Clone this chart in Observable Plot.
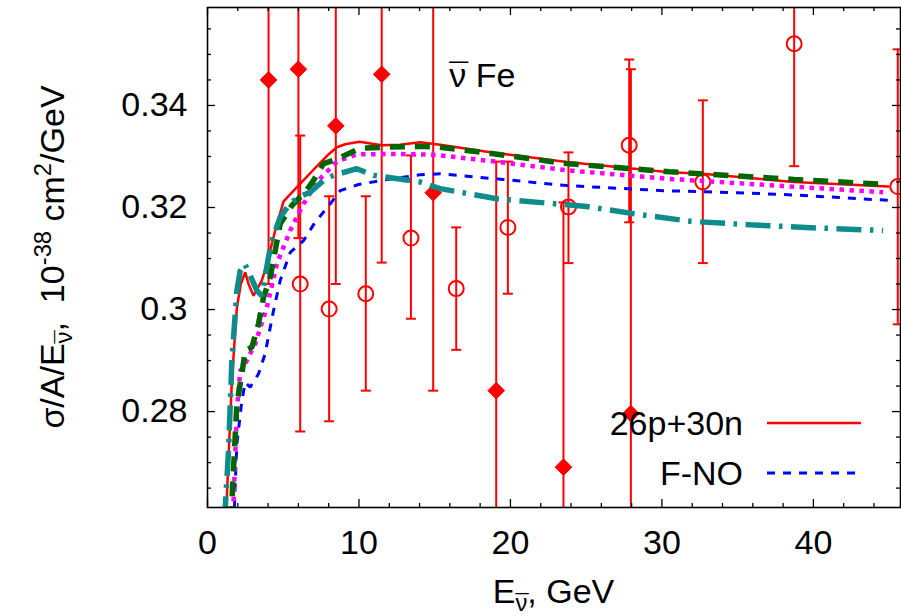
<!DOCTYPE html>
<html><head><meta charset="utf-8">
<script src="https://cdn.jsdelivr.net/npm/d3@7"></script>
<script src="https://cdn.jsdelivr.net/npm/@observablehq/plot@0.6"></script>
<style>
body{margin:0;background:#fff}
#chart svg{display:block}
</style>
</head><body><div id="chart"></div>
<script>
// ---------- data ----------
const xMajorTicks = [0, 10, 20, 30, 40];
const xMinorTicks = [2,4,6,8,12,14,16,18,22,24,26,28,32,34,36,38,42,44];
const yMajorTicks = [0.28, 0.3, 0.32, 0.34];
const yMinorTicks = [0.265,0.27,0.275,0.285,0.29,0.295,0.305,0.31,0.315,0.325,0.33,0.335,0.345,0.35,0.355];

// 26p+30n (red solid)
const redE = [1.2,1.61,1.94,2.2,2.49,2.71,3.04,3.59,3.92,4.47,5.02,6.0,7.0,7.99,8.54,9.09,10.03,11.5,12.7,14.04,15.36,19,23.72,30.5,32.7,38.7,44.95];
const redV = [0.258,0.2861,0.3004,0.305,0.3073,0.305,0.3027,0.3057,0.309,0.3155,0.3212,0.3243,0.3274,0.3304,0.3318,0.3324,0.3329,0.3322,0.3323,0.3328,0.3323,0.3307,0.3289,0.3269,0.3266,0.325,0.3241];
// F-NO (blue dashed)
const blueE = [1.78,1.83,1.94,2.27,2.49,2.82,3.37,3.8,4.36,4.8,5.46,6.34,7.1,8.1,8.76,9.97,12.06,14.04,15.36,19.5,23.72,30.1,35,39.1,44.95];
const blueV = [0.2612,0.2658,0.2737,0.2822,0.2857,0.2848,0.2874,0.2913,0.2998,0.3057,0.3112,0.3135,0.3171,0.3207,0.3233,0.3245,0.3256,0.3264,0.3266,0.3255,0.3243,0.3233,0.3229,0.3224,0.3214];
// magenta dotted
const magE = [1.68,1.72,1.94,2.16,2.38,3.15,3.92,4.58,5.46,6.34,7.22,8.54,9.86,12.06,14.04,15.14,19,23.7,30.5,38,44.6];
const magV = [0.2585,0.2625,0.2802,0.288,0.2887,0.2933,0.3004,0.309,0.3155,0.3207,0.325,0.329,0.3304,0.3305,0.3304,0.3303,0.329,0.3273,0.3256,0.3242,0.323];
// dark green dashed
const greenE = [1.5,1.61,1.94,2.27,2.49,2.93,3.37,3.7,4.14,4.8,5.57,6.45,7.0,7.66,8.54,10.08,11.5,14.04,15.36,19,23.7,30.5,38.7,44.9];
const greenV = [0.2585,0.2625,0.2815,0.2874,0.292,0.2926,0.2972,0.3024,0.3063,0.3168,0.3204,0.323,0.3253,0.3286,0.3295,0.3316,0.3318,0.332,0.3318,0.3305,0.3286,0.327,0.3255,0.3245];
// teal dash-dot
const tealE = [1.12,1.39,1.61,1.72,1.94,2.16,2.45,2.7,3.26,3.59,4.03,4.25,4.8,5.46,6.0,6.78,7.66,8.32,9.86,10.96,14.04,15.36,19.1,25.04,28.1,31.86,35.8,40.2,44.6];
const tealV = [0.2585,0.2724,0.29,0.2946,0.3037,0.3076,0.309,0.3075,0.3037,0.3027,0.3103,0.3135,0.3181,0.3208,0.322,0.323,0.3253,0.3263,0.3276,0.3263,0.325,0.3237,0.3217,0.3202,0.3188,0.3173,0.3166,0.316,0.3155];

// data points: filled diamonds
const diamondE  = [4.03,6.0,8.47,11.5,14.9,19.06,23.5,27.95];
const diamondV  = [0.345,0.3471,0.336,0.3461,0.3229,0.2841,0.2691,0.2796];
const diamondLo = [0.305,0.314,0.305,0.3092,0.2841,0.239,0.217,0.212];
const diamondHi = [0.385,0.380,0.367,0.383,0.3617,0.329,0.321,0.3471];
// data points: open circles
const circleE  = [6.12,8.03,10.45,13.43,16.42,19.83,23.83,27.84,32.7,38.73,45.57];
const circleV  = [0.305,0.3001,0.3031,0.314,0.3041,0.3161,0.3201,0.3322,0.325,0.3521,0.3241];
const circleLo = [0.2761,0.2781,0.2841,0.2982,0.2921,0.3031,0.3091,0.3171,0.3091,0.3281,0.2971];
const circleHi = [0.3341,0.3222,0.3222,0.3302,0.3161,0.329,0.3308,0.349,0.341,0.376,0.351];

const legendNames = ["26p+30n", "F-NO"];
const annotationNu = "\u03BD";
const annotationRest = " Fe";
const annotationX = 16.0;
const annotationY = 0.3459;

// ---------- build ----------
const RED = "#ff0000";
const toRows = (E, V) => E.map((e, i) => ({e, v: V[i]}));
const pts = (E, V, Lo, Hi) => E.map((e, i) => ({e, v: V[i], lo: Lo[i], hi: Hi[i]}));
const diamonds = pts(diamondE, diamondV, diamondLo, diamondHi);
const circles = pts(circleE, circleV, circleLo, circleHi);
const all = diamonds.concat(circles);

const capSymbol = {draw(ctx) { ctx.moveTo(-5, 0); ctx.lineTo(5, 0); }};

const W = 901, H = 616, ML = 207, MR = 1, MT = 7, MB = 109;
const FW = W - ML - MR, FH = H - MT - MB;
const FONT = "'Liberation Sans', Arial, Helvetica, sans-serif";
const FS = 34;

const curves = [
  {E: redE, V: redV, stroke: RED, w: 2.5, dash: null, cap: "round"},
  {E: blueE, V: blueV, stroke: "#0000ff", w: 3, dash: "8,8", cap: "butt"},
  {E: magE, V: magV, stroke: "#ff00ff", w: 4.5, dash: "4.5,5.5", cap: "butt"},
  {E: greenE, V: greenV, stroke: "#006400", w: 5.5, dash: "15,10", cap: "butt"},
  {E: tealE, V: tealV, stroke: "#0e8c8c", w: 5.5, dash: "25,8.5,3.5,8.5", cap: "butt"}
];

const plot = Plot.plot({
  width: W, height: H,
  marginLeft: ML, marginRight: MR, marginTop: MT, marginBottom: MB,
  style: {fontFamily: FONT, background: "white", color: "black", overflow: "visible"},
  x: {domain: [0, 45.75]},
  y: {domain: [0.2612, 0.3592]},
  marks: [
    // error bars
    Plot.ruleX(all, {x: "e", y1: "lo", y2: "hi", stroke: RED, strokeWidth: 2, clip: true}),
    Plot.dot(all, {x: "e", y: "lo", symbol: capSymbol, stroke: RED, strokeWidth: 2, clip: true}),
    Plot.dot(all, {x: "e", y: "hi", symbol: capSymbol, stroke: RED, strokeWidth: 2, clip: true}),
    Plot.dot(circles, {x: "e", y: "v", r: 7.5, stroke: RED, strokeWidth: 2, fill: "none", clip: true}),
    Plot.dot(diamonds, {x: "e", y: "v", symbol: "diamond2", r: 7.5, fill: RED, stroke: RED, strokeWidth: 1, clip: true}),
    // model curves
    ...curves.map(c => Plot.line(toRows(c.E, c.V), {
      x: "e", y: "v", stroke: c.stroke, strokeWidth: c.w,
      strokeDasharray: c.dash, strokeLinecap: c.cap, strokeLinejoin: "miter", clip: true
    })),
    // frame
    Plot.frame({stroke: "black", strokeWidth: 1.6}),
    // tick labels
    Plot.axisX(xMajorTicks, {tickSize: 0, tickPadding: 22, fontSize: FS, label: null, tickFormat: d => String(d)}),
    Plot.axisY(yMajorTicks, {tickSize: 0, tickPadding: 20, fontSize: FS, label: null, tickFormat: d => String(d)}),
    // inward ticks: bottom & top
    Plot.ruleX(xMajorTicks, {x: d => d, insetTop: FH - 8, stroke: "black", strokeWidth: 1.3}),
    Plot.ruleX(xMajorTicks, {x: d => d, insetBottom: FH - 8, stroke: "black", strokeWidth: 1.3}),
    Plot.ruleX(xMinorTicks, {x: d => d, insetTop: FH - 4, stroke: "black", strokeWidth: 1.3}),
    Plot.ruleX(xMinorTicks, {x: d => d, insetBottom: FH - 4, stroke: "black", strokeWidth: 1.3}),
    // inward ticks: left & right
    Plot.ruleY(yMajorTicks, {y: d => d, insetRight: FW - 8, stroke: "black", strokeWidth: 1.3}),
    Plot.ruleY(yMajorTicks, {y: d => d, insetLeft: FW - 8, stroke: "black", strokeWidth: 1.3}),
    Plot.ruleY(yMinorTicks, {y: d => d, insetRight: FW - 4, stroke: "black", strokeWidth: 1.3}),
    Plot.ruleY(yMinorTicks, {y: d => d, insetLeft: FW - 4, stroke: "black", strokeWidth: 1.3})
  ]
});

document.getElementById("chart").appendChild(plot);

// ---------- annotation, axis titles and legend (rich text) ----------
const svg = d3.select(plot);
const sx = plot.scale("x"), sy = plot.scale("y");

// append "ν" with a macron bar placed over it (as a following tspan moved back)
function barredNu(textSel, size, dyIn) {
  const nu = textSel.append("tspan").attr("font-size", size).text("\u03BD");
  if (dyIn) nu.attr("dy", dyIn);
  const w = nu.node().getComputedTextLength();
  const mac = textSel.append("tspan").attr("font-size", size).attr("dx", -w).text("\u00AF");
  const m = mac.node().getComputedTextLength();
  return w - m; // dx to apply to the next tspan
}

// "ν̄ Fe"
const an = svg.append("text")
  .attr("x", sx.apply(annotationX)).attr("y", sy.apply(annotationY)).attr("dy", "0.35em")
  .attr("text-anchor", "start").attr("font-family", FONT).attr("font-size", FS).attr("fill", "black");
const anDx = barredNu(an, FS, null);
an.append("tspan").attr("dx", anDx).text(annotationRest);

// x title: E_ν̄, GeV
const xt = svg.append("text")
  .attr("x", (ML + W - MR) / 2).attr("y", 603)
  .attr("text-anchor", "middle").attr("font-family", FONT).attr("font-size", FS).attr("fill", "black");
xt.append("tspan").text("E");
const xDx = barredNu(xt, FS * 0.7, 8);
xt.append("tspan").attr("dx", xDx).attr("dy", -8).text(", GeV");

// y title: σ/A/E_ν̄,  10^-38 cm^2/GeV
const yt = svg.append("text")
  .attr("transform", `translate(64,${(MT + H - MB) / 2}) rotate(-90)`)
  .attr("text-anchor", "middle").attr("font-family", FONT).attr("font-size", FS).attr("fill", "black");
yt.append("tspan").text("\u03C3/A/E");
const yDx = barredNu(yt, FS * 0.7, 8);
yt.append("tspan").attr("dx", yDx).attr("dy", -8).text(",\u00A0\u00A010");
yt.append("tspan").attr("font-size", FS * 0.7).attr("dy", -13).text("-38");
yt.append("tspan").attr("dy", 13).text(" cm");
yt.append("tspan").attr("font-size", FS * 0.7).attr("dy", -13).text("2");
yt.append("tspan").attr("dy", 13).text("/GeV");

// legend
const legendStyles = [curves[0], curves[1]];
const legendY = [423, 473];
legendNames.forEach((name, i) => {
  svg.append("text").attr("x", 743).attr("y", legendY[i]).attr("dy", "0.35em")
    .attr("text-anchor", "end").attr("font-family", FONT).attr("font-size", FS).attr("fill", "black")
    .text(name);
  const c = legendStyles[i];
  svg.append("line").attr("x1", 767).attr("x2", 861).attr("y1", legendY[i]).attr("y2", legendY[i])
    .attr("stroke", c.stroke).attr("stroke-width", c.w).attr("stroke-dasharray", c.dash)
    .attr("stroke-linecap", "butt");
});
</script>
</body></html>
